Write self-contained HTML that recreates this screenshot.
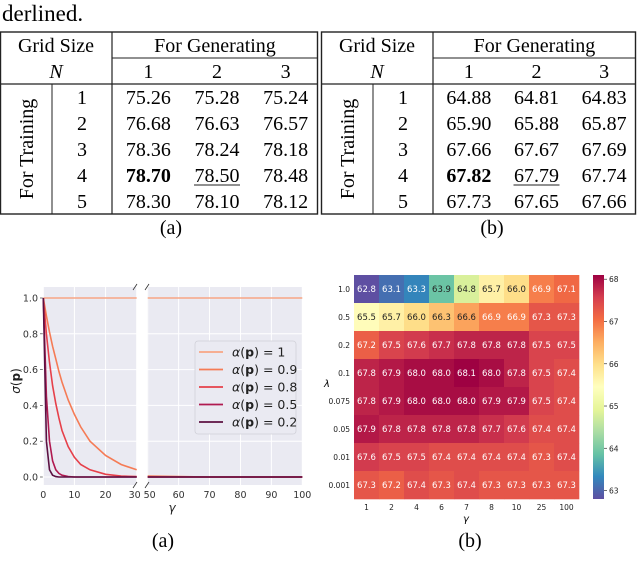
<!DOCTYPE html>
<html><head><meta charset="utf-8"><style>
html,body{margin:0;padding:0;background:#fff;width:640px;height:580px;overflow:hidden}
.s{font-family:"DejaVu Sans","Liberation Sans",sans-serif}
.r{font-family:"Liberation Serif","Times New Roman",serif}
</style></head><body>
<svg id="root" width="640" height="580" viewBox="0 0 640 580">
<text x="2" y="21" font-size="23" class="r" font-family="Liberation Serif, serif">derlined.</text>
<g id="tables"></g>
<g id="linechart"></g>
<g id="heatmap"></g>
</svg>
<script>
// ---- table data ----
const tableA = [["75.26","75.28","75.24"],["76.68","76.63","76.57"],["78.36","78.24","78.18"],["78.70","78.50","78.48"],["78.30","78.10","78.12"]];
const tableB = [["64.88","64.81","64.83"],["65.90","65.88","65.87"],["67.66","67.67","67.69"],["67.82","67.79","67.74"],["67.73","67.65","67.66"]];
// ---- line chart data ----
const gammas = [0,1,2,3,4,5,6,8,10,12,15,20,25,30,50,60,70,80,90,100];
const seriesLabels = ["1","0.9","0.8","0.5","0.2"];
const s_a1  = [1,1,1,1,1,1,1,1,1,1,1,1,1,1,1,1,1,1,1,1];
const s_a09 = [1,0.90,0.81,0.73,0.66,0.59,0.53,0.43,0.35,0.28,0.20,0.12,0.07,0.04,0.005,0.002,0,0,0,0];
const s_a08 = [1,0.80,0.64,0.51,0.41,0.33,0.26,0.17,0.11,0.07,0.04,0.015,0.005,0.002,0,0,0,0,0,0];
const s_a05 = [1,0.45,0.20,0.09,0.04,0.02,0.01,0.003,0,0,0,0,0,0,0,0,0,0,0,0];
const s_a02 = [1,0.20,0.04,0.01,0.002,0,0,0,0,0,0,0,0,0,0,0,0,0,0,0];
const yTicks = [0,0.2,0.4,0.6,0.8,1.0];
const xTicksL = [0,10,20,30];
const xTicksR = [50,60,70,80,90,100];
// ---- heatmap data ----
const hmCols = ["1","2","4","6","7","8","10","25","100"];
const hmRows = ["1.0","0.5","0.2","0.1","0.075","0.05","0.01","0.001"];
const hm_r0 = [62.8,63.1,63.3,63.9,64.8,65.7,66.0,66.9,67.1];
const hm_r1 = [65.5,65.7,66.0,66.3,66.6,66.9,66.9,67.3,67.3];
const hm_r2 = [67.2,67.5,67.6,67.7,67.8,67.8,67.8,67.5,67.5];
const hm_r3 = [67.8,67.9,68.0,68.0,68.1,68.0,67.8,67.5,67.4];
const hm_r4 = [67.8,67.9,68.0,68.0,68.0,67.9,67.9,67.5,67.4];
const hm_r5 = [67.9,67.8,67.8,67.8,67.8,67.7,67.6,67.4,67.4];
const hm_r6 = [67.6,67.5,67.5,67.4,67.4,67.4,67.4,67.3,67.4];
const hm_r7 = [67.3,67.2,67.4,67.3,67.4,67.3,67.3,67.3,67.3];
const cbTicks = [63,64,65,66,67,68];

const NS="http://www.w3.org/2000/svg";
function mk(tag,attrs,parent,txt){const e=document.createElementNS(NS,tag);for(const k in attrs)e.setAttribute(k,attrs[k]);if(txt!==undefined)e.textContent=txt;parent.appendChild(e);return e;}
const SERIF="Liberation Serif, Times New Roman, serif";

// ---------- tables ----------
function drawTable(x0,x1,data,cap,capx,name){
  const g=mk('g',{'font-family':SERIF},document.getElementById('tables'));
  
  
  const xd=x0+112, xi=x0+52, w=x1-x0;
  mk('rect',{x:x0+0.5,y:32,width:w-1,height:182,fill:'none',stroke:'#222','stroke-width':1.4},g);
  mk('line',{x1:xd,y1:32,x2:xd,y2:214,stroke:'#222','stroke-width':1.2},g);
  mk('line',{x1:xd,y1:58,x2:x1,y2:58,stroke:'#222','stroke-width':1},g);
  mk('line',{x1:x0,y1:84,x2:x1,y2:84,stroke:'#222','stroke-width':1.2},g);
  mk('line',{x1:xi,y1:84,x2:xi,y2:214,stroke:'#222','stroke-width':1},g);
  let t=mk('text',{x:x0+56,y:52,'font-size':20,'text-anchor':'middle'},g,'Grid Size');
  
  t=mk('text',{x:x0+56,y:78,'font-size':20,'text-anchor':'middle','font-style':'italic'},g,'N');
  
  t=mk('text',{x:(xd+x1)/2,y:52,'font-size':20,'text-anchor':'middle'},g,'For Generating');
  
  const colW=(x1-xd)/3;
  for(let c=0;c<3;c++){t=mk('text',{x:xd+colW*(c+0.5)+2,y:78,'font-size':20,'text-anchor':'middle'},g,String(c+1));
    }
  t=mk('text',{x:0,y:0,'font-size':20,'text-anchor':'middle',transform:`translate(${x0+33},149) rotate(-90)`},g,'For Training');
  
  for(let r=0;r<5;r++){
    const y=104+r*26;
    t=mk('text',{x:x0+82,y:y,'font-size':20,'text-anchor':'middle'},g,String(r+1));
    
    for(let c=0;c<3;c++){
      const cx=xd+colW*(c+0.5)+2;
      t=mk('text',{x:cx,y:y,'font-size':20,'text-anchor':'middle','font-weight':(r==3&&c==0)?'bold':'normal'},g,data[r][c]);
      
      if(r==3&&c==1) mk('line',{x1:cx-23,y1:y+3,x2:cx+23,y2:y+3,stroke:'#222','stroke-width':1},g);
    }
  }
  t=mk('text',{x:capx,y:234,'font-size':20,'text-anchor':'middle'},g,cap);
  
}
drawTable(0,318,tableA,'(a)',171,'table-a');
drawTable(321,636,tableB,'(b)',492,'table-b');

// ---------- line chart ----------
(function(){
  const g=document.getElementById('linechart');
  const top=287,bot=485, yv=v=>477-(477-298)*v;
  const xl=v=>43.3+(136.7-43.3)*v/30, xr=v=>147.7+(302.3-147.7)*(v-50)/50;
  let r=mk('rect',{x:43,y:top,width:94,height:bot-top,fill:'#eaeaf2'},g);
  
  r=mk('rect',{x:147,y:top,width:155.5,height:bot-top,fill:'#eaeaf2'},g);
  
  yTicks.forEach(v=>{
    mk('line',{x1:43,x2:137,y1:yv(v),y2:yv(v),stroke:'#fff','stroke-width':1},g);
    mk('line',{x1:147,x2:302.5,y1:yv(v),y2:yv(v),stroke:'#fff','stroke-width':1},g);
    mk('line',{x1:40,x2:43,y1:yv(v),y2:yv(v),stroke:'#444','stroke-width':0.7},g);
    const t=mk('text',{x:38,y:yv(v)+3.5,'font-size':9.5,'text-anchor':'end',fill:'#333',class:'s'},g,v.toFixed(1));
    
  });
  xTicksL.forEach(v=>{mk('line',{x1:xl(v),x2:xl(v),y1:top,y2:bot,stroke:'#fff'},g);
    const t=mk('text',{x:xl(v)-(v==30?2:0),y:498,'font-size':9.5,'text-anchor':'middle',fill:'#333',class:'s'},g,String(v));
    });
  xTicksR.forEach(v=>{mk('line',{x1:xr(v),x2:xr(v),y1:top,y2:bot,stroke:'#fff'},g);
    const t=mk('text',{x:xr(v)+(v==50?2:0),y:498,'font-size':9.5,'text-anchor':'middle',fill:'#333',class:'s'},g,String(v));
    });
  const series=[s_a1,s_a09,s_a08,s_a05,s_a02];
  const colors=['#f7a584','#f57b55','#e6404a','#b01a50','#5c1142'];
  series.forEach((s,i)=>{
    let dl='',dr='';
    gammas.forEach((gm,j)=>{
      if(gm<=30) dl+=(dl?'L':'M')+xl(gm).toFixed(1)+','+yv(s[j]).toFixed(1);
      if(gm>=50) dr+=(dr?'L':'M')+xr(gm).toFixed(1)+','+yv(s[j]).toFixed(1);
    });
    let p=mk('path',{d:dl,fill:'none',stroke:colors[i],'stroke-width':1.6},g);
    
    p=mk('path',{d:dr,fill:'none',stroke:colors[i],'stroke-width':1.6},g);
    
  });
  [[135,top],[147,top],[135,bot],[147,bot]].forEach(([x,y])=>mk('line',{x1:x-2,y1:y+3,x2:x+2,y2:y-3,stroke:'#333','stroke-width':0.8},g));
  const lg=mk('g',{},g);
  
  mk('rect',{x:195,y:341,width:101,height:93,rx:3,fill:'#eaeaf2',stroke:'#d0d0d8','stroke-width':0.8},lg);
  seriesLabels.forEach((lab,i)=>{
    const y=352+i*17.5;
    mk('line',{x1:199,x2:223,y1:y,y2:y,stroke:colors[i],'stroke-width':1.8},lg);
    const t=mk('text',{x:232,y:y+4.5,'font-size':12.5,fill:'#222',class:'s'},lg);
    
    t.innerHTML='<tspan font-style="italic">α</tspan>(<tspan font-weight="bold">p</tspan>) = '+lab;
  });
  let t=mk('text',{x:0,y:0,'font-size':12,class:'s',fill:'#222',transform:'translate(20,381) rotate(-90)','text-anchor':'middle'},g);
  t.innerHTML='<tspan font-style="italic">σ</tspan>(<tspan font-weight="bold">p</tspan>)';
  
  t=mk('text',{x:172,y:512,'font-size':12,class:'s','font-style':'italic','text-anchor':'middle',fill:'#222'},g,'γ');
  
  t=mk('text',{x:163,y:547,'font-size':20,'text-anchor':'middle','font-family':SERIF},g,'(a)');
  
})();

// ---------- heatmap ----------
(function(){
  const g=document.getElementById('heatmap');
  const rows=[hm_r0,hm_r1,hm_r2,hm_r3,hm_r4,hm_r5,hm_r6,hm_r7];
  const vmin=62.8,vmax=68.1;
  const stops=['#5e4fa2','#3288bd','#66c2a5','#abdda4','#e6f598','#ffffbf','#fee08b','#fdae61','#f46d43','#d53e4f','#9e0142'];
  function hex(h){return [1,3,5].map(i=>parseInt(h.substr(i,2),16));}
  function cmap(v){let t=(v-vmin)/(vmax-vmin);t=Math.max(0,Math.min(1,t));const f=t*10,i=Math.min(9,Math.floor(f)),u=f-i;
    const a=hex(stops[i]),b=hex(stops[i+1]);return 'rgb('+a.map((c,k)=>Math.round(c+(b[k]-c)*u)).join(',')+')';}
  const x0=354,y0=275,cw=25,ch=28;
  rows.forEach((row,r)=>{
    row.forEach((v,c)=>{
      const rc=mk('rect',{x:x0+c*cw,y:y0+r*ch,width:cw+0.3,height:ch+0.3,fill:cmap(v)},g);
      
      const light=v>63.5&&v<66.7;
      const t=mk('text',{x:x0+c*cw+cw/2,y:y0+r*ch+ch/2+3,'font-size':8.5,'text-anchor':'middle',fill:light?'#222':'#fff',class:'s'},g,v.toFixed(1));
      
    });
    const t=mk('text',{x:350,y:y0+r*ch+ch/2+3,'font-size':7.5,'text-anchor':'end',fill:'#222',class:'s'},g,hmRows[r]);
    
  });
  hmCols.forEach((c,i)=>{const t=mk('text',{x:x0+i*cw+cw/2,y:510,'font-size':7.5,'text-anchor':'middle',fill:'#222',class:'s'},g,c);
    });
  let t=mk('text',{x:466,y:522,'font-size':10,'font-style':'italic','text-anchor':'middle',class:'s'},g,'γ');
  
  t=mk('text',{x:327,y:387,'font-size':10,'font-style':'italic','text-anchor':'middle',class:'s'},g,'λ');
  
  const defs=mk('defs',{},g);const lgd=mk('linearGradient',{id:'cbg',x1:0,y1:1,x2:0,y2:0},defs);
  stops.forEach((s,i)=>mk('stop',{offset:i/10,'stop-color':s},lgd));
  const cb=mk('rect',{x:593,y:275,width:11,height:224,fill:'url(#cbg)'},g);
  
  const cy=v=>499-(499-275)*(v-vmin)/(vmax-vmin);
  cbTicks.forEach(v=>{mk('line',{x1:604,x2:607,y1:cy(v),y2:cy(v),stroke:'#333','stroke-width':0.7},g);
    const tt=mk('text',{x:609,y:cy(v)+3,'font-size':7.5,fill:'#222',class:'s'},g,String(v));
    });
  t=mk('text',{x:470,y:547,'font-size':20,'text-anchor':'middle','font-family':SERIF},g,'(b)');
  
})();
</script>
</body></html>
